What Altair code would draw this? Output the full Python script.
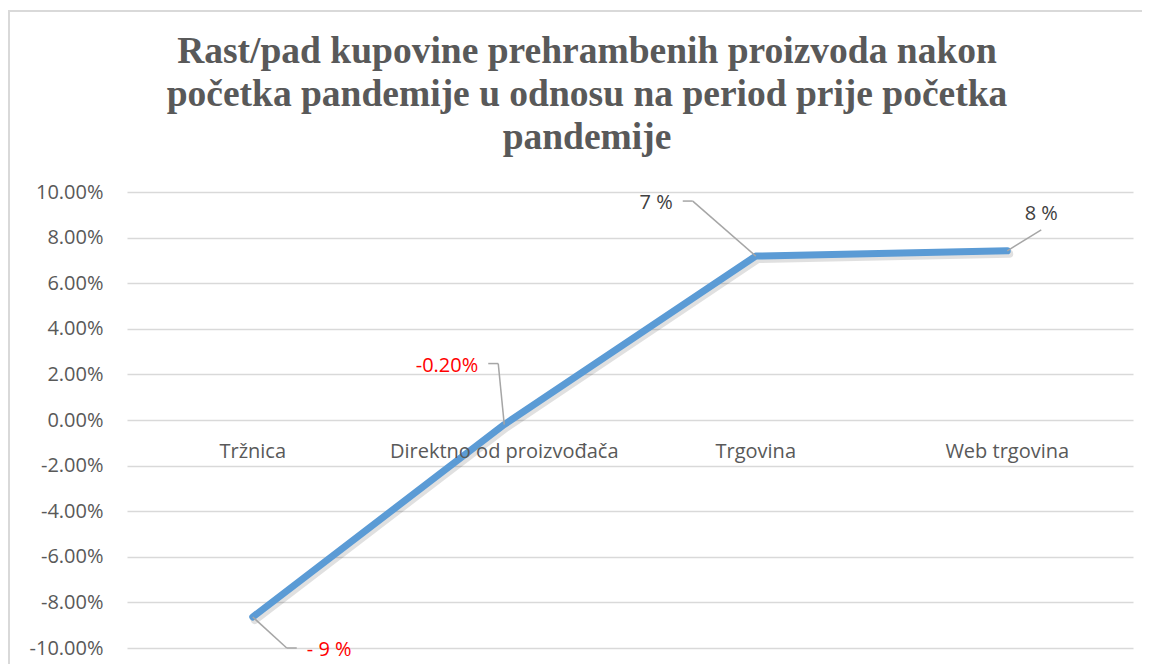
import altair as alt
import pandas as pd

categories = ["Tržnica", "Direktno od proizvođača", "Trgovina", "Web trgovina"]
values = [-0.0864, -0.002, 0.0719, 0.0742]
value_labels = ["- 9 %", "-0.20%", "7 %", "8 %"]
label_colors = ["#FF0000", "#FF0000", "#404040", "#404040"]
y_ticks = [-0.10, -0.08, -0.06, -0.04, -0.02, 0.0, 0.02, 0.04, 0.06, 0.08, 0.10]
title_lines = [
    "Rast/pad kupovine prehrambenih proizvoda nakon",
    "početka pandemije u odnosu na period prije početka",
    "pandemije",
]

df = pd.DataFrame({
    "cat": categories,
    "pos": [i + 0.5 for i in range(len(categories))],
    "value": values,
    "label": value_labels,
    "color": label_colors,
})

FONT = "Open Sans"
GREY = "#595959"
FS = 20
W, H = 1006, 456

xs = alt.Scale(domain=[0, len(categories)])
ys = alt.Scale(domain=[-0.10, 0.10])
yaxis = alt.Axis(
    values=y_ticks, title=None, domain=False, ticks=False, grid=True,
    labelExpr="replace(format(datum.value, '.2%'), '\u2212', '-')",
    labelPadding=24, labelFontSize=FS, labelColor=GREY, labelFont=FONT,
    gridColor="#d9d9d9", gridWidth=1.5,
)
X = alt.X("pos:Q", scale=xs, axis=None)
Y = alt.Y("value:Q", scale=ys, axis=yaxis)

base = alt.Chart(df)

line = base.mark_line(
    color="#5B9BD5", strokeWidth=7, strokeCap="round", strokeJoin="round"
).encode(x=X, y=Y)

shadow = base.mark_line(
    color="#000000", opacity=0.12, strokeWidth=8, strokeCap="round",
    strokeJoin="round", xOffset=2, yOffset=3
).encode(x=X, y=Y)

one = alt.Data(values=[{}])
frame_top = alt.Chart(one).mark_rule(stroke="#d9d9d9", strokeWidth=2).encode(
    x=alt.value(-119), x2=alt.value(1100), y=alt.value(-181), y2=alt.value(-181)
)
frame_left = alt.Chart(one).mark_rule(stroke="#d9d9d9", strokeWidth=2).encode(
    x=alt.value(-118), x2=alt.value(-118), y=alt.value(-182), y2=alt.value(600)
)

cat_text = base.transform_calculate(zero="0").mark_text(
    font=FONT, fontSize=FS, color=GREY, baseline="middle", align="center", dy=32
).encode(x=X, y=alt.Y("zero:Q", scale=ys, axis=yaxis), text="cat:N")

# label placement: (seg1 end dx,dy), (seg2 end dx,dy) or None, text dx, dy, align
placements = {
    "Tržnica": ((34, 31), (44, 31), 54, 33, "left"),
    "Direktno od proizvođača": ((-6, -61), (-16, -61), -26, -59, "right"),
    "Trgovina": ((-63, -55), (-73, -55), -83, -53, "right"),
    "Web trgovina": ((34, -21), None, 34, -37, "center"),
}

leader_layers = []
for cat, (p1, p2, tdx, tdy, al) in placements.items():
    sub = base.transform_filter(alt.datum.cat == cat)
    leader_layers.append(
        sub.mark_rule(color="#a6a6a6", strokeWidth=1.5,
                      x2Offset=p1[0], y2Offset=p1[1]).encode(
            x=X, y=Y, x2="pos:Q", y2="value:Q")
    )
    if p2 is not None:
        leader_layers.append(
            sub.mark_rule(color="#a6a6a6", strokeWidth=1.5,
                          xOffset=p1[0], yOffset=p1[1],
                          x2Offset=p2[0], y2Offset=p2[1]).encode(
                x=X, y=Y, x2="pos:Q", y2="value:Q")
        )
    leader_layers.append(
        sub.mark_text(font=FONT, fontSize=FS, align=al, baseline="middle",
                      dx=tdx, dy=tdy).encode(
            x=X, y=Y, text="label:N",
            color=alt.Color("color:N", scale=None))
    )

chart = alt.layer(
    shadow, line, frame_top, frame_left, cat_text, *leader_layers
).properties(
    width=W, height=H,
    title=alt.TitleParams(
        text=title_lines, font="Liberation Serif", fontSize=37.5, fontWeight="bold",
        color=GREY, anchor="middle", frame="group", lineHeight=43, dx=-43,
        offset=-147,
    ),
    padding={"left": 119, "top": 184, "right": 9, "bottom": 16},
    autosize=alt.AutoSizeParams(type="none"),
).configure_view(stroke=None)

chart.save("out.html", embed_options={"renderer": "svg", "actions": False})
